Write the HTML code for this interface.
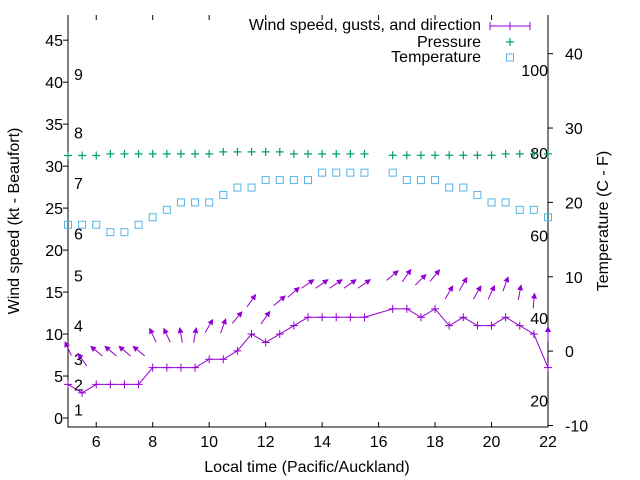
<!DOCTYPE html>
<html><head><meta charset="utf-8"><style>
body{margin:0;background:#fff}
svg{display:block;font-family:"Liberation Sans",sans-serif}
</style></head><body>
<svg id="c" width="640" height="480"></svg>
<script>
const times=[5,5.5,6,6.5,7,7.5,8,8.5,9,9.5,10,10.5,11,11.5,12,12.5,13,13.5,14,14.5,15,15.5,16.5,17,17.5,18,18.5,19,19.5,20,20.5,21,21.5,22];
const windKt=[4,3,4,4,4,4,6,6,6,6,7,7,8,10,9,10,11,12,12,12,12,12,13,13,12,13,11,12,11,11,12,11,10,6];
const gustKt=[8.3,7,8,8,8,8,9.9,9.9,9.9,9.9,11,11,12,14,12,14,15,16,16,16,16,16,17,17,16.5,17,15,16,15,15,16,15,14,10];
const dirDeg=[115,125,140,140,140,140,115,115,100,80,60,70,50,55,55,40,40,35,35,35,35,35,40,55,45,50,60,60,60,65,70,80,85,90];
const pressTimes=[5,5.5,6,6.5,7,7.5,8,8.5,9,9.5,10,10.5,11,11.5,12,12.5,13,13.5,14,14.5,15,15.5,16.5,17,17.5,18,18.5,19,19.5,20,20.5,21,21.5,22];
const pressVal=[31.27,31.27,31.27,31.46,31.46,31.46,31.46,31.46,31.46,31.46,31.46,31.7,31.7,31.7,31.7,31.7,31.46,31.46,31.46,31.46,31.46,31.46,31.3,31.3,31.3,31.3,31.3,31.3,31.3,31.3,31.46,31.46,31.46,31.46];
const tempC=[17,17,17,16,16,17,18,19,20,20,20,21,22,22,23,23,23,23,24,24,24,24,24,23,23,23,22,22,21,20,20,19,19,18];
const xTicks=[6,8,10,12,14,16,18,20,22];
const yTicks=[0,5,10,15,20,25,30,35,40,45];
const y2Ticks=[-10,0,10,20,30,40];
const beaufort=[1,4,7,11,17,22,28,34,41];
const fahr=[20,40,60,80,100];

const FS=16;
const L=68,R=548,T=15,B=427;
const X=t=>L+(t-5)/(22-5)*(R-L);
const Y=v=>B-(v+1.07)/(48+1.07)*(B-T);
const Y2=c=>B-(c+10.2)/(45.2+10.2)*(B-T);
const svg=document.getElementById('c');
const NS='http://www.w3.org/2000/svg';
function mk(tag,attrs,parent){const e=document.createElementNS(NS,tag);for(const k in attrs)e.setAttribute(k,attrs[k]);(parent||svg).appendChild(e);return e;}
function txt(x,y,s,anchor,extra){const e=mk('text',Object.assign({x:x,y:y,'font-size':FS,fill:'#000','text-anchor':anchor||'middle'},extra||{}));e.textContent=s;return e;}

const frame=mk('path',{d:`M${L},${T}V${B}H${R}V${T}`,fill:'none',stroke:'#000','stroke-width':1});



xTicks.forEach(t=>{
  const g=mk('g',{});
  
  
  mk('line',{x1:X(t),x2:X(t),y1:B,y2:B-5,stroke:'#000'},g);
  mk('line',{x1:X(t),x2:X(t),y1:T,y2:T+5,stroke:'#000'},g);
  const lb=mk('text',{x:X(t),y:B+20,'font-size':FS,'text-anchor':'middle'},g);lb.textContent=t;
});
yTicks.forEach(v=>{
  const g=mk('g',{});
  
  
  mk('line',{x1:L-5,x2:L,y1:Y(v),y2:Y(v),stroke:'#000'},g);
  const lb=mk('text',{x:L-5,y:Y(v)+6,'font-size':FS,'text-anchor':'end'},g);lb.textContent=v;
});
y2Ticks.forEach(v=>{
  const g=mk('g',{});
  
  
  mk('line',{x1:R,x2:R+5,y1:Y2(v),y2:Y2(v),stroke:'#000'},g);
  const lb=mk('text',{x:R+17,y:Y2(v)+6,'font-size':FS,'text-anchor':'start'},g);lb.textContent=v;
});
beaufort.forEach((k,i)=>{
  const e=txt(74,Y(k)+6,String(i+1),'start');
  
  
});
fahr.forEach(f=>{
  const e=txt(548,Y2((f-32)*5/9)+6,String(f),'end');
  
  
});

let a=txt(0,0,'Wind speed (kt - Beaufort)','middle',{transform:'translate(19,221) rotate(-90)'});


a=txt(0,0,'Temperature (C - F)','middle',{transform:'translate(608,221) rotate(-90)'});


a=txt(307,472,'Local time (Pacific/Auckland)','middle');



tempC.forEach((c,i)=>{
  const r=mk('rect',{x:X(times[i])-3.5,y:Y2(c)-3.5,width:7,height:7,fill:'none',stroke:'#56b4e9','stroke-width':1});
  
  
});
pressVal.forEach((p,i)=>{
  const x=X(pressTimes[i]),y=Y(p);
  const e=mk('path',{d:`M${x-4},${y}H${x+4}M${x},${y-4}V${y+4}`,stroke:'#009e73','stroke-width':1.2});
  
  
});
const wl=mk('polyline',{points:windKt.map((w,i)=>X(times[i])+','+Y(w)).join(' '),fill:'none',stroke:'#9400d3','stroke-width':1});


windKt.forEach((w,i)=>{
  const x=X(times[i]),y=Y(w);
  const e=mk('path',{d:`M${x-4},${y}H${x+4}M${x},${y-4}V${y+4}`,stroke:'#9400d3','stroke-width':1});
  
  
});
gustKt.forEach((g,i)=>{
  const cx=X(times[i]),cy=Y(g),a=dirDeg[i]*Math.PI/180,len=16;
  const dx=Math.cos(a)*len/2,dy=-Math.sin(a)*len/2;
  const x1=cx-dx,y1=cy-dy,x2=cx+dx,y2=cy+dy;
  const ux=dx/(len/2),uy=dy/(len/2),h=6,w=3;
  const bx=x2-ux*h,by=y2-uy*h;
  const grp=mk('g',{});
  
  
  mk('line',{x1:x1,y1:y1,x2:bx,y2:by,stroke:'#9400d3','stroke-width':1},grp);
  mk('path',{d:`M${x2},${y2}L${bx-uy*w},${by+ux*w}L${bx+uy*w},${by-ux*w}Z`,fill:'#9400d3'},grp);
});

const lg=mk('g',{});


[['Wind speed, gusts, and direction',24],['Pressure',41],['Temperature',56]].forEach(([s,y])=>{
  const e=mk('text',{x:481,y:y+6,'font-size':FS,'text-anchor':'end'},lg);e.textContent=s;
  
  
});
mk('path',{d:'M490,26H530M490,22V30M530,22V30M510,22V30',stroke:'#9400d3','stroke-width':1,fill:'none'},lg);
mk('path',{d:'M506,42H514M510,38V46',stroke:'#009e73','stroke-width':1.2},lg);
mk('rect',{x:506.5,y:54,width:7,height:7,fill:'none',stroke:'#56b4e9'},lg);
</script>
</body></html>
